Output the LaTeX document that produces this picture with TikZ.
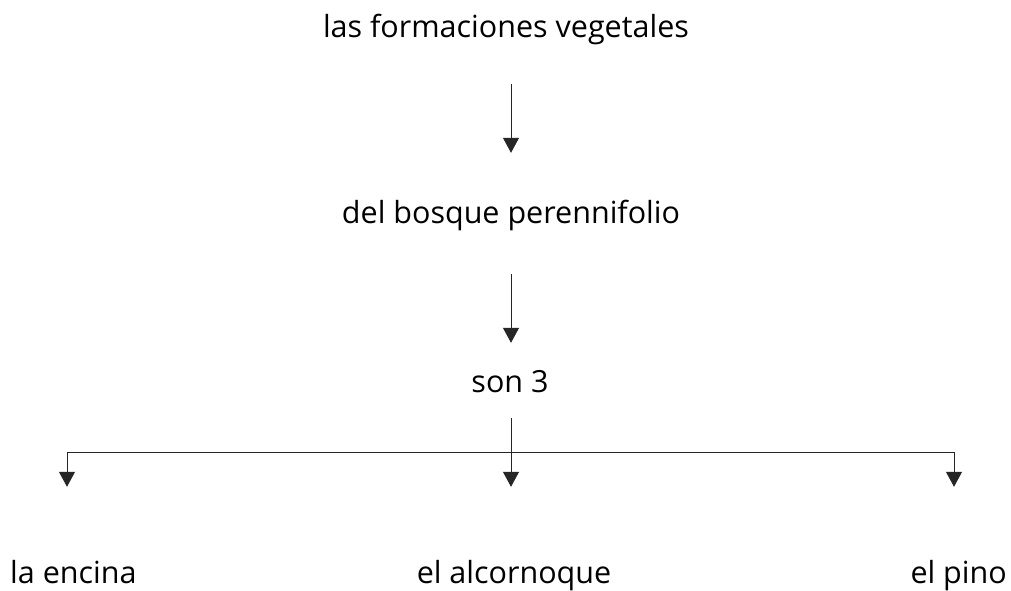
\documentclass[tikz,border=0pt]{standalone}
\usepackage{fontspec}
\setmainfont{Open Sans}
\usetikzlibrary{arrows.meta}
\begin{document}
\begin{tikzpicture}[x=1pt,y=-1pt,
  lbl/.style={inner sep=0pt, text height=24pt, text depth=8pt, font=\fontsize{30.5}{34}\selectfont},
  conn/.style={line width=1pt, draw=black!85},
  arr/.style={conn, -{Triangle[width=16pt,length=15pt]}}]
\useasboundingbox[fill=white] (0,0) rectangle (1011,591);
\node[lbl, anchor=base] (title) at (506,38) {las formaciones vegetales};
\node[lbl, anchor=base] (bosque) at (511,223) {del bosque perennifolio};
\node[lbl, anchor=base] (son) at (510,392) {son 3};
\node[lbl, anchor=base west] (encina) at (10,583) {la encina};
\node[lbl, anchor=base] (alcornoque) at (514,583) {el alcornoque};
\node[lbl, anchor=base east] (pino) at (1007,583) {el pino};
\coordinate (hub) at (511,452);
\coordinate (lft) at (67,452);
\coordinate (rgt) at (954,452);
\draw[arr, shorten <=38pt, shorten >=46pt] (title.south -| hub) -- (bosque.north -| hub);
\draw[arr, shorten <=43pt, shorten >=25pt] (bosque.south -| hub) -- (son.north -| hub);
\draw[conn, shorten <=18pt] (son.south -| hub) -- (hub);
\draw[conn] (lft) -- (rgt);
\draw[arr, shorten >=72pt] (lft) -- (lft |- encina.north);
\draw[arr, shorten >=72pt] (hub) -- (hub |- alcornoque.north);
\draw[arr, shorten >=72pt] (rgt) -- (rgt |- pino.north);
\end{tikzpicture}
\end{document}
